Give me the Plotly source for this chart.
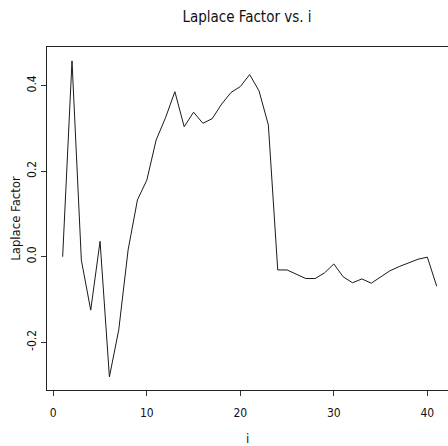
import plotly.graph_objects as go

i_vals = list(range(1, 42))
laplace = [0.000, 0.458, -0.008, -0.125, 0.036, -0.281, -0.171, 0.016, 0.133, 0.179,
           0.273, 0.325, 0.386, 0.304, 0.338, 0.312, 0.323, 0.357, 0.384, 0.398,
           0.426, 0.388, 0.308, -0.031, -0.031, -0.041, -0.051, -0.051, -0.038, -0.017,
           -0.047, -0.061, -0.052, -0.062, -0.047, -0.033, -0.023, -0.015, -0.006, -0.001,
           -0.069]
x_ticks = [0, 10, 20, 30, 40]
y_ticks = [-0.2, 0.0, 0.2, 0.4]
y_tick_labels = ["-0.2", "0.0", "0.2", "0.4"]

font = "DejaVu Sans Condensed, Liberation Sans Narrow, Arial Narrow, Liberation Sans, sans-serif"

fig = go.Figure(go.Scatter(x=i_vals, y=laplace, mode="lines",
                           line=dict(color="#1a1a1a", width=1), showlegend=False))

fig.update_layout(
    width=448, height=446,
    margin=dict(l=47, r=0, t=47, b=56),
    paper_bgcolor="white", plot_bgcolor="white",
    title=dict(text="Laplace Factor vs. i", x=247 / 448, xanchor="center",
               y=1 - 17 / 446, yanchor="middle", yref="container", xref="container",
               font=dict(family=font, size=15, color="#111")),
    font=dict(family=font, color="#111"),
)
fig.update_xaxes(range=[-0.674, 42.21], tickvals=x_ticks, ticks="outside", ticklen=5,
                 tickcolor="#333", showgrid=False, zeroline=False, automargin=False,
                 showline=True, linecolor="#222", linewidth=1, mirror=True,
                 ticklabelstandoff=7,
                 tickfont=dict(size=12, family=font),
                 title=dict(text="i", font=dict(size=13, family=font), standoff=14))
fig.update_yaxes(range=[-0.3118, 0.4905], tickvals=y_ticks, ticktext=y_tick_labels,
                 ticks="outside", ticklen=5, tickcolor="#333", tickangle=-90,
                 showgrid=False, zeroline=False, automargin=False,
                 showline=True, linecolor="#222", linewidth=1, mirror=False,
                 tickfont=dict(size=12, family=font),
                 title=dict(text="Laplace Factor", font=dict(size=13, family=font), standoff=1))

fig.write_html("out.html", config={"displayModeBar": False},
               post_script="document.body.style.margin='0';")
